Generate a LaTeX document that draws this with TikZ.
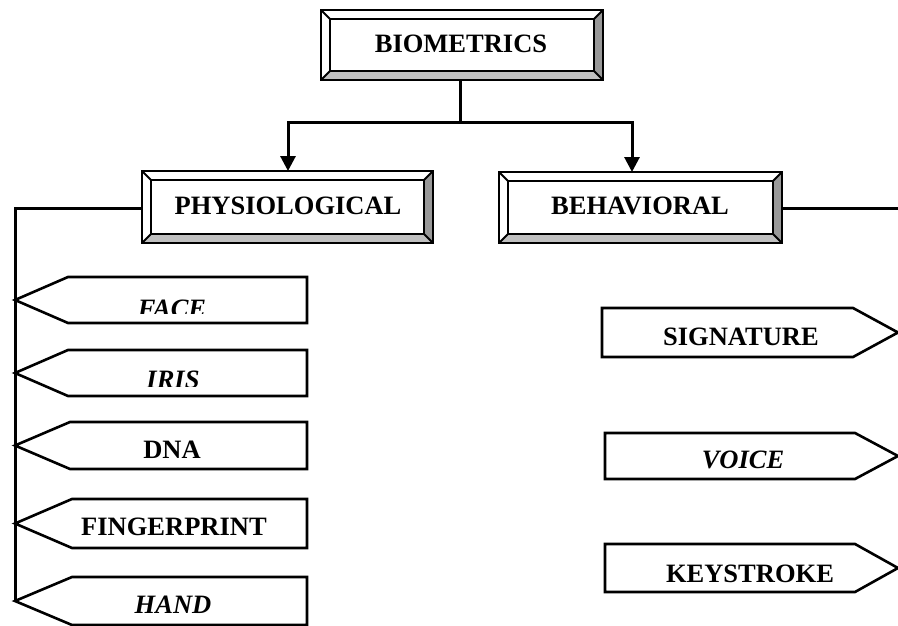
\documentclass[tikz,border=0pt]{standalone}
\usepackage{fontspec}
\setmainfont{Liberation Serif}
\usetikzlibrary{arrows.meta}
\definecolor{bevdark}{HTML}{999999}
\definecolor{bevlight}{HTML}{C0C0C0}
\newcommand{\bevbox}[5]{%
  \fill[white] (#1,#2) rectangle (#3,#4);
  \fill[bevdark] (#3,#2) -- (#3,#4) -- ({#3-#5},{#4-#5}) -- ({#3-#5},{#2+#5}) -- cycle;
  \fill[bevlight] (#1,#4) -- (#3,#4) -- ({#3-#5},{#4-#5}) -- ({#1+#5},{#4-#5}) -- cycle;
  \draw[outline] (#1,#2) rectangle (#3,#4);
  \draw[outline] ({#1+#5},{#2+#5}) rectangle ({#3-#5},{#4-#5});
  \draw[line width=2pt] (#1,#2) -- ({#1+#5},{#2+#5}) (#3,#2) -- ({#3-#5},{#2+#5})
     (#1,#4) -- ({#1+#5},{#4-#5}) (#3,#4) -- ({#3-#5},{#4-#5});
}
\newcommand{\lpent}[5]{% name, top, bottom, corner x, right x
  \coordinate (#1tip) at (15,{(#2+#3)/2});
  \draw[outline, fill=white] (#1tip) -- (#4,#2) -- (#5,#2) -- (#5,#3) -- (#4,#3) -- cycle;
}
\newcommand{\rpent}[5]{% name, top, bottom, left x, corner x
  \coordinate (#1tip) at (898,{(#2+#3)/2});
  \draw[outline, fill=white] (#4,#2) -- (#5,#2) -- (#1tip) -- (#5,#3) -- (#4,#3) -- cycle;
}
\begin{document}
\begin{tikzpicture}[x=1pt,y=-1pt,
  lbl/.style={font=\fontsize{26.5}{28}\selectfont\bfseries, inner sep=0pt, anchor=base},
  ilbl/.style={font=\fontsize{26.5}{28}\selectfont\bfseries\itshape, inner sep=0pt, anchor=base},
  edge/.style={line width=3pt},
  outline/.style={line width=2.6pt, line join=miter},
  arr/.style={edge, -{Triangle[length=15pt,width=15pt]}},
]
\useasboundingbox (0,0) rectangle (898,626);
\clip (0,0) rectangle (898,626);
\fill[white] (0,0) rectangle (898,626);

% top-level boxes
\bevbox{321}{10}{603}{80}{9}
\node[lbl] (bio) at (461,53) {BIOMETRICS};
\bevbox{142}{171}{433}{243}{9}
\node[lbl] (phy) at (288,214) {PHYSIOLOGICAL};
\bevbox{499}{172}{782}{243}{9}
\node[lbl] (beh) at (640,214) {BEHAVIORAL};

% connectors from the root
\coordinate (bioS) at (460,80);
\coordinate (split) at (460,123);
\coordinate (phyN) at (288,171);
\coordinate (behN) at (632,172);
\draw[edge] (bioS) -- (split);
\draw[arr] (split) -| (phyN);
\draw[arr] (split) -| (behN);

% left branch
\lpent{face}{277}{323}{68}{307}
\lpent{iris}{350}{396}{68}{307}
\lpent{dna}{422}{469}{70}{307}
\lpent{fing}{499}{548}{72}{307}
\lpent{hand}{577}{625}{72}{307}
\coordinate (phyW) at (142,208);
\coordinate (lcorner) at (15,208);
\draw[edge] (phyW) -- (lcorner) -- (handtip);

\begin{scope}
  \clip (40,277) rectangle (307,313);
  \node[ilbl] (face) at (172,317) {FACE};
\end{scope}
\begin{scope}
  \clip (40,350) rectangle (307,386);
  \node[ilbl] (iris) at (173,388) {IRIS};
\end{scope}
\node[lbl] (dna) at (172,458) {DNA};
\node[lbl] (fing) at (174,535) {FINGERPRINT};
\node[ilbl] (hand) at (173,613) {HAND};

% right branch
\coordinate (behE) at (782,208);
\coordinate (rcorner) at (902,208);
\draw[edge] (behE) -- (rcorner);
\rpent{sig}{308}{357}{602}{853}
\rpent{voice}{433}{479}{605}{855}
\rpent{key}{544}{592}{605}{855}
\node[lbl] (sig) at (741,345) {SIGNATURE};
\node[ilbl] (voice) at (743,468) {VOICE};
\node[lbl] (key) at (750,582) {KEYSTROKE};
\end{tikzpicture}
\end{document}
